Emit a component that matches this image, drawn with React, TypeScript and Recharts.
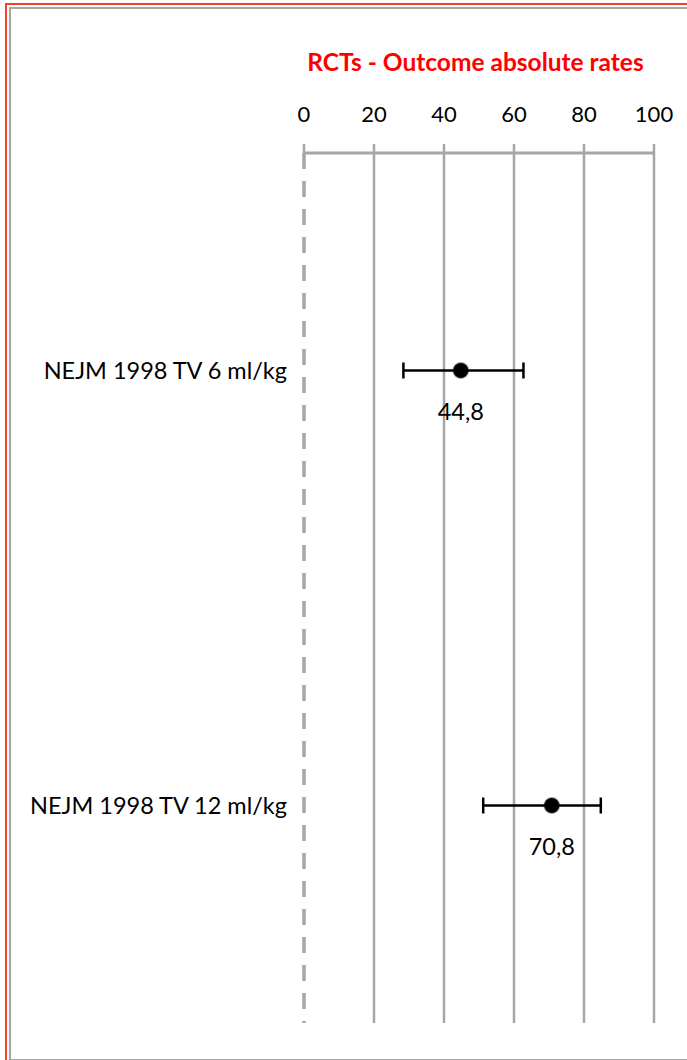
import { ScatterChart, Scatter, XAxis, YAxis, ErrorBar, ReferenceLine, LabelList } from 'recharts'

const STUDIES = ['NEJM 1998 TV 6 ml/kg', 'NEJM 1998 TV 12 ml/kg']
const RATES = [44.8, 70.8]
const CI_LOW = [28.4, 51.2]
const CI_HIGH = [62.7, 84.8]
const X_TICKS = [0, 20, 40, 60, 80, 100]

const FONT = 'Lato, "Open Sans", sans-serif'
const GRID = '#a6a6a6'

const data = STUDIES.map((study, i) => ({
  study,
  rate: RATES[i],
  err: [RATES[i] - CI_LOW[i], CI_HIGH[i] - RATES[i]],
}))

// big soft black dot
const Dot = (p: { cx?: number; cy?: number }) => (
  <g>
    <circle cx={p.cx} cy={p.cy} r={8.5} fill="#000" opacity={0.35} />
    <circle cx={p.cx} cy={p.cy} r={7.5} fill="#000" />
  </g>
)

export default function App() {
  return (
    <div style={{ position: 'relative', width: 687, height: 1060, overflow: 'hidden', background: '#fff', fontFamily: FONT }}>
      <style>{'body{margin:0}'}</style>
      {/* frames */}
      <div style={{ position: 'absolute', left: 5, top: 3, width: 700, height: 1080, border: '2px solid #f5402a' }} />
      <div style={{ position: 'absolute', left: 9, top: 7, width: 700, height: 1050, border: '2px solid #a6a6a6' }} />

      <div style={{ position: 'absolute', left: 0, width: 687, top: 47, textAlign: 'center', paddingLeft: 264, boxSizing: 'border-box', color: '#ff0000', fontWeight: 700, fontSize: 24.5 }}>
        RCTs - Outcome absolute rates
      </div>

      <div style={{ position: 'absolute', left: 0, top: 0 }}>
        <ScatterChart width={687} height={1060} margin={{ top: 93, right: 33, bottom: 37, left: 0 }}>
          <XAxis
            type="number"
            dataKey="rate"
            orientation="top"
            domain={[0, 100]}
            ticks={X_TICKS}
            height={60}
            tick={{ fill: '#000', fontSize: 22, fontFamily: FONT }}
            tickSize={9}
            tickMargin={22}
            tickLine={{ stroke: GRID, strokeWidth: 2.5 }}
            axisLine={{ stroke: GRID, strokeWidth: 3 }}
          />
          <YAxis
            type="category"
            dataKey="study"
            reversed
            width={304}
            tick={{ fill: '#000', fontSize: 23.5, fontFamily: FONT }}
            tickSize={0}
            tickMargin={17}
            axisLine={false}
            tickLine={false}
          />
          {X_TICKS.filter(t => t > 0).map(t => (
            <ReferenceLine key={t} x={t} stroke={GRID} strokeWidth={2.5} />
          ))}
          <ReferenceLine x={0} stroke={GRID} strokeWidth={3.5} strokeDasharray="16 12" />
          <Scatter data={data} fill="#000" shape={Dot} isAnimationActive={false}>
            <ErrorBar dataKey="err" direction="x" width={8} stroke="#000" strokeWidth={2.5} />
            <LabelList
              dataKey="rate"
              position="bottom"
              offset={28}
              formatter={(v: number) => String(v).replace('.', ',')}
              style={{ fill: '#000', fontSize: 23.5, fontFamily: FONT }}
            />
          </Scatter>
        </ScatterChart>
      </div>
    </div>
  )
}
